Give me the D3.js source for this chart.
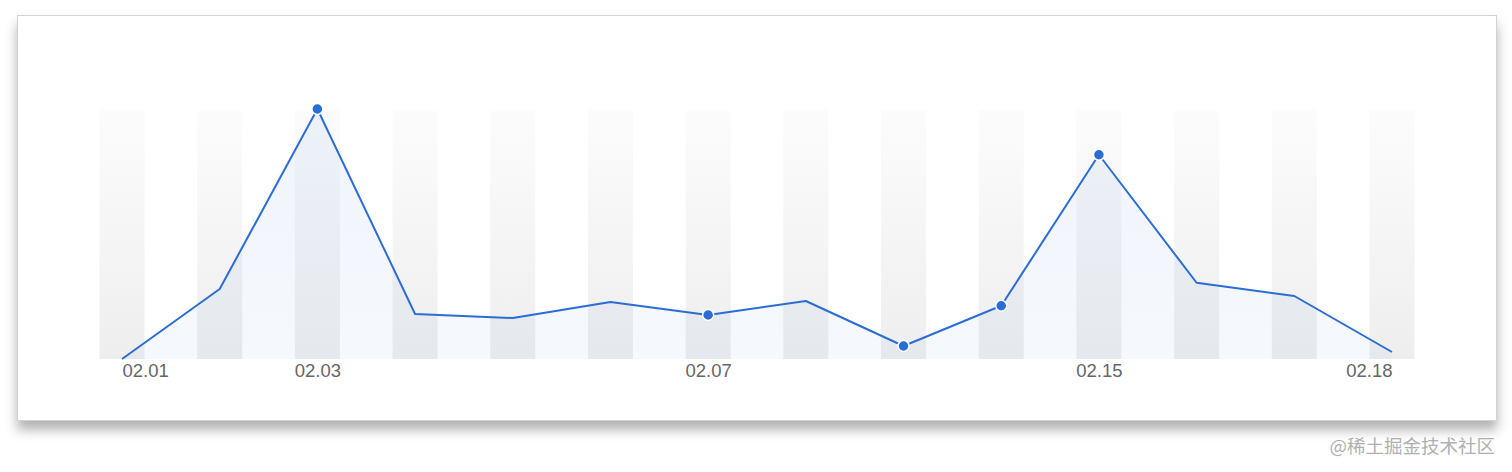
<!DOCTYPE html>
<html>
<head>
<meta charset="utf-8">
<script src="https://cdn.jsdelivr.net/npm/d3@7/dist/d3.min.js"></script>
<style>
  html, body { margin: 0; padding: 0; background: #ffffff; }
  svg { display: block; }
</style>
</head>
<body>
<svg id="chart" width="1512" height="472"></svg>
<script>
// ---- data ----
const categories = ["02.01","02.02","02.03","02.04","02.05","02.06","02.07","02.08","02.10","02.13","02.15","02.16","02.17","02.18"];
const values = [0, 28, 100, 18, 16.4, 22.8, 17.6, 23.2, 5.2, 21.3, 81.7, 30.5, 25.2, 2.8];
const markedDates = ["02.03","02.07","02.10","02.13","02.15"];
const tickLabels = ["02.01","02.03","02.07","02.15","02.18"];
const yMax = 100;
const watermark = "@稀土掘金技术社区";

const svg = d3.select("#chart");
const defs = svg.append("defs");

const shadow = defs.append("filter").attr("id", "cardShadow")
  .attr("x", "-5%").attr("y", "-10%").attr("width", "110%").attr("height", "130%");
shadow.append("feDropShadow").attr("dx", 0).attr("dy", 9).attr("stdDeviation", 6)
  .attr("flood-color", "#000").attr("flood-opacity", 0.3);

const barGrad = defs.append("linearGradient").attr("id", "barGrad")
  .attr("x1", 0).attr("y1", 0).attr("x2", 0).attr("y2", 1);
barGrad.append("stop").attr("offset", "0%").attr("stop-color", "#fcfcfc");
barGrad.append("stop").attr("offset", "100%").attr("stop-color", "#eeeeee");

const areaGrad = defs.append("linearGradient").attr("id", "areaGrad")
  .attr("x1", 0).attr("y1", 0).attr("x2", 0).attr("y2", 1);
areaGrad.append("stop").attr("offset", "0%").attr("stop-color", "#2a6dd5").attr("stop-opacity", 0.07);
areaGrad.append("stop").attr("offset", "100%").attr("stop-color", "#2a6dd5").attr("stop-opacity", 0.045);

// card
svg.append("rect")
  .attr("x", 17.5).attr("y", 15.5).attr("width", 1479).attr("height", 405)
  .attr("fill", "#ffffff").attr("stroke", "#d2d2d2").attr("stroke-width", 1)
  .attr("filter", "url(#cardShadow)");

const x = d3.scalePoint().domain(categories).range([122, 1392]);
const y = d3.scaleLinear().domain([0, yMax]).range([359, 109]);
const barW = 45;

// background bars
svg.append("g").selectAll("rect").data(categories).join("rect")
  .attr("x", d => x(d) - barW / 2)
  .attr("y", y(yMax) + 1)
  .attr("width", barW)
  .attr("height", y(0) - y(yMax) - 1)
  .attr("fill", "url(#barGrad)");

const pts = categories.map((c, i) => ({ c, v: values[i] }));

// area
svg.append("path").datum(pts)
  .attr("fill", "url(#areaGrad)")
  .attr("d", d3.area().x(d => x(d.c)).y0(y(0)).y1(d => y(d.v)));

// line
svg.append("path").datum(pts)
  .attr("fill", "none").attr("stroke", "#2a6dd5").attr("stroke-width", 2)
  .attr("stroke-linejoin", "round")
  .attr("d", d3.line().x(d => x(d.c)).y(d => y(d.v)));

// markers
svg.append("g").selectAll("circle").data(pts.filter(d => markedDates.includes(d.c))).join("circle")
  .attr("cx", d => x(d.c)).attr("cy", d => y(d.v)).attr("r", 5.5)
  .attr("fill", "#2a6dd5").attr("stroke", "#ffffff").attr("stroke-width", 1.5);

// x axis
const axis = svg.append("g").attr("transform", `translate(0,${y(0)})`)
  .call(d3.axisBottom(x).tickValues(tickLabels).tickSize(0).tickPadding(5));
axis.select(".domain").remove();
axis.selectAll("text")
  .attr("fill", "#666666")
  .style("font-family", "'Liberation Sans', Arial, Helvetica, sans-serif")
  .style("font-size", "18.5px");
axis.selectAll(".tick").filter(d => d === tickLabels[0]).select("text").attr("text-anchor", "start");
axis.selectAll(".tick").filter(d => d === tickLabels[tickLabels.length - 1]).select("text").attr("text-anchor", "end");

// watermark
svg.append("text")
  .attr("x", 1495).attr("y", 453).attr("text-anchor", "end")
  .attr("fill", "#b0b0b0")
  .style("font-family", "'Noto Sans CJK SC', sans-serif")
  .style("font-size", "18.5px")
  .text(watermark);
</script>
</body>
</html>
